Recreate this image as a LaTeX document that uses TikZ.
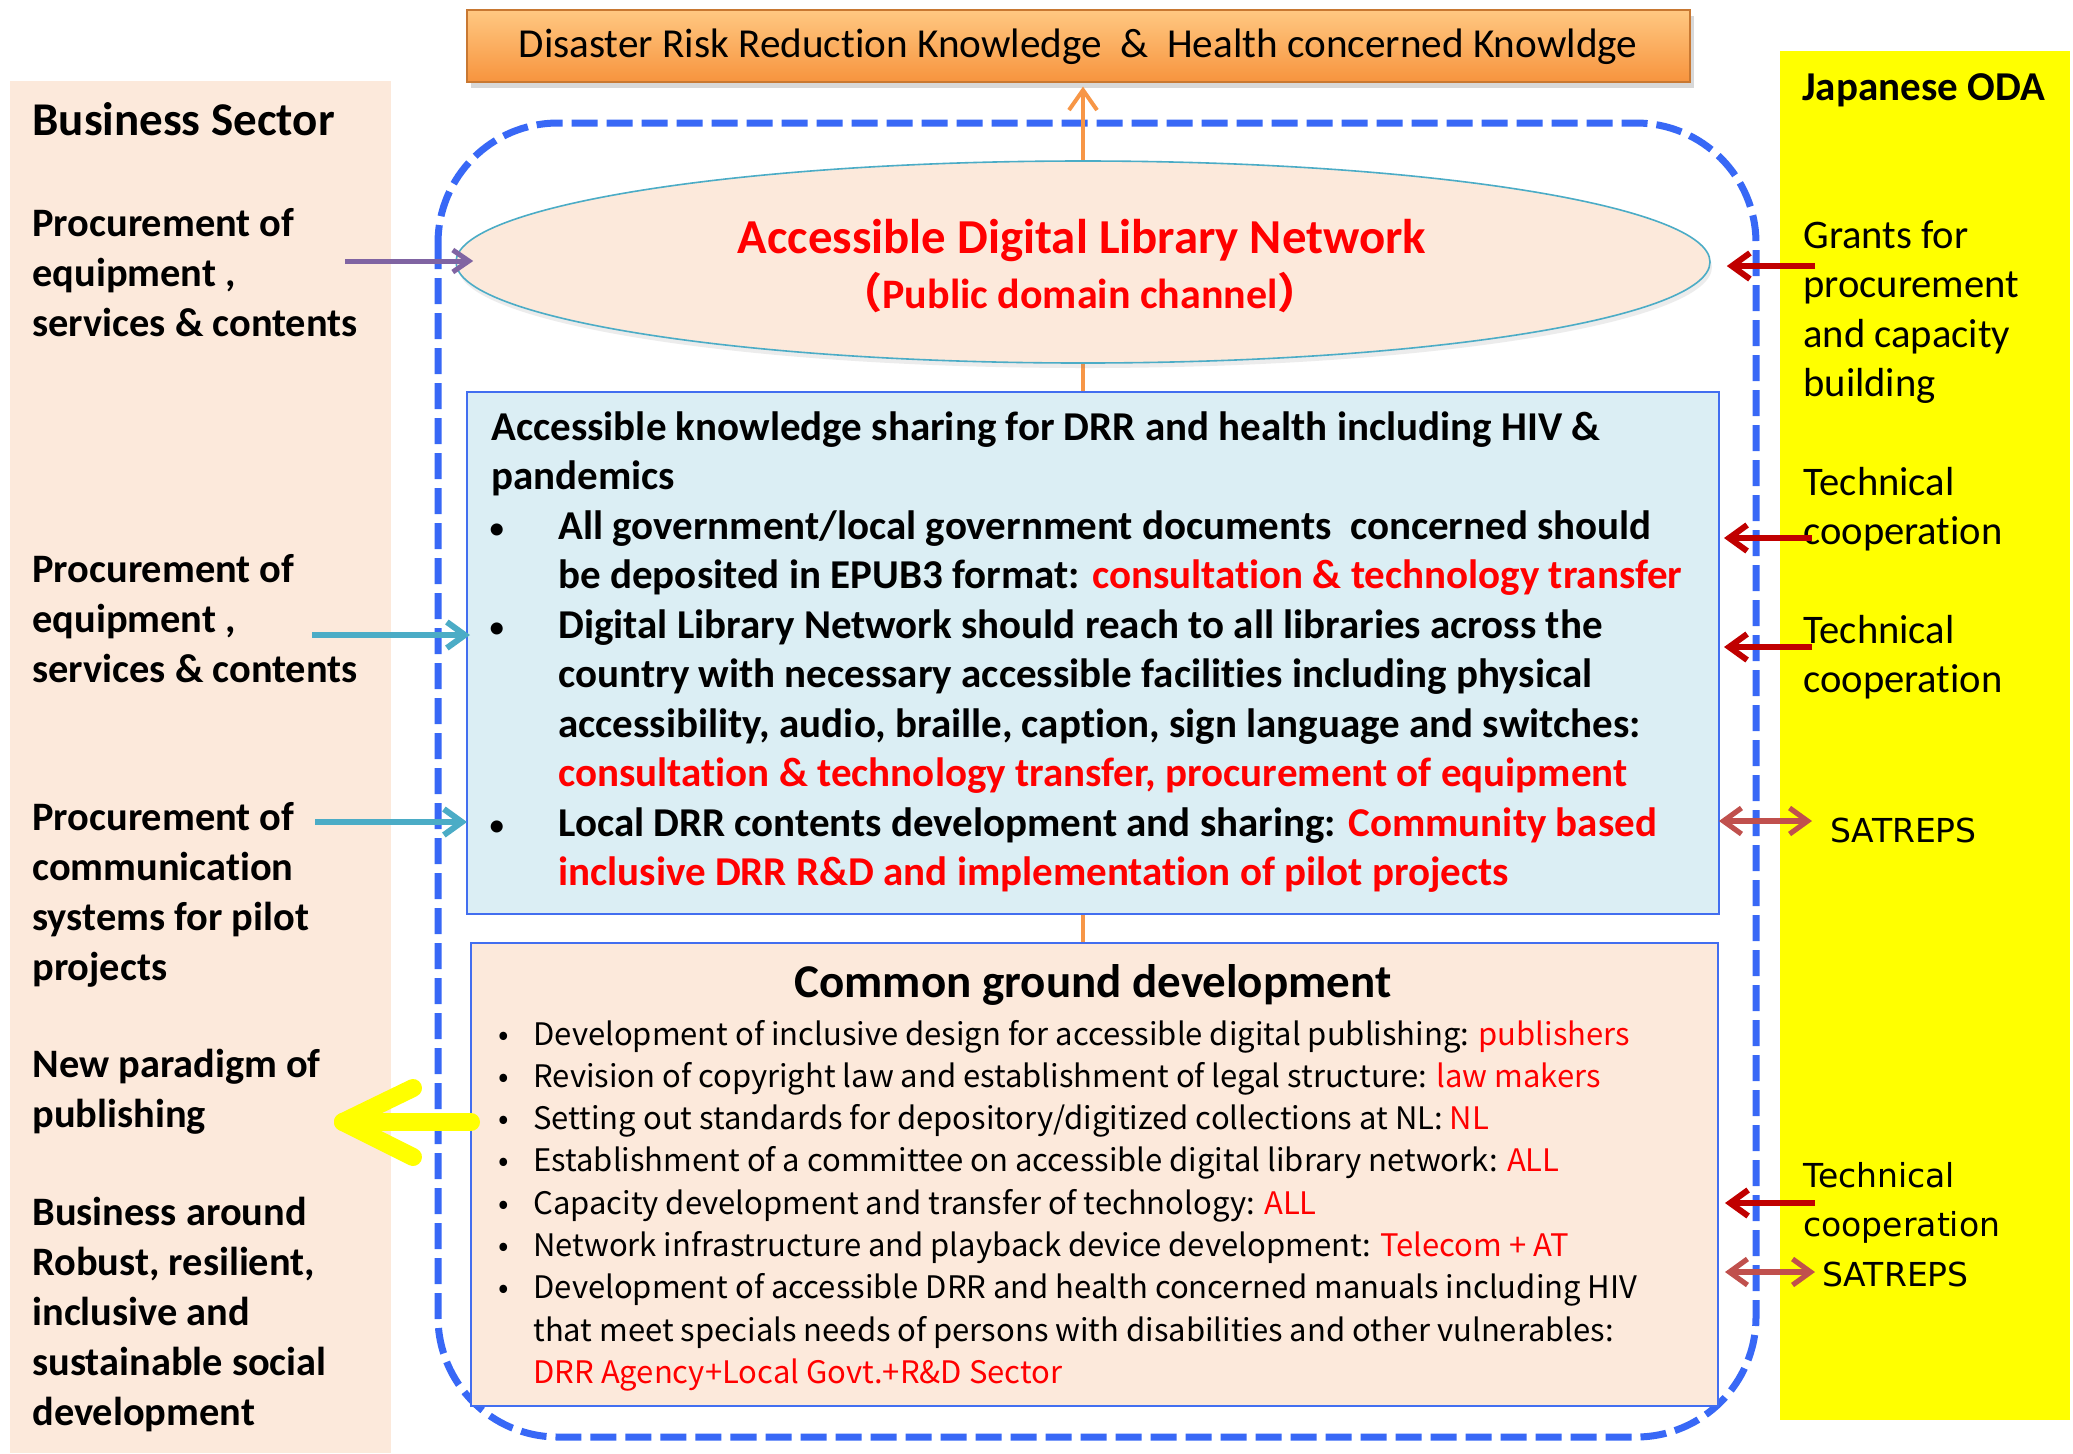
\documentclass[tikz,border=0pt]{standalone}
\usepackage{fontspec}
\setmainfont{Carlito}[Ligatures=NoCommon]
\newfontfamily\jpfont{Noto Sans CJK JP}
\newfontfamily\lucfont{DejaVu Sans}
\usetikzlibrary{arrows.meta,shadows,calc,shapes.geometric}
\definecolor{peach}{RGB}{252,233,219}
\definecolor{lblue}{RGB}{219,238,244}
\definecolor{boxblue}{RGB}{66,110,240}
\definecolor{dashblue}{RGB}{56,104,246}
\definecolor{myteal}{RGB}{75,172,198}
\definecolor{darkred}{RGB}{192,0,0}
\definecolor{satred}{RGB}{192,80,77}
\definecolor{purp}{RGB}{128,100,162}
\definecolor{orline}{RGB}{247,150,70}
\definecolor{ortop}{RGB}{255,200,130}
\definecolor{orbot}{RGB}{247,148,62}
\definecolor{orborder}{RGB}{200,120,50}
\definecolor{myyellow}{RGB}{255,255,0}
\newcommand{\rd}[1]{\textcolor{red}{#1}}
\newcommand{\kbul}{\hspace*{-1.5pt}\makebox[35pt][l]{\mdseries\fontsize{17}{20}\selectfont •}}
\begin{document}
\begin{tikzpicture}[x=0.5pt,y=-0.5pt,
  lefttxt/.style={anchor=base west, inner sep=0pt, font=\bfseries\fontsize{20.2}{25}\selectfont},
  righttxt/.style={anchor=base west, inner sep=0pt, font=\fontsize{20.3}{24.8}\selectfont},
  luctxt/.style={anchor=base west, inner sep=0pt, font=\lucfont\fontsize{16.5}{24.8}\selectfont},
  redarrow/.style={draw=darkred, line width=3pt, -{Straight Barb[length=9pt,width=13pt]}},
  satarrow/.style={draw=satred, line width=2.6pt, {Straight Barb[length=9pt,width=13pt]}-{Straight Barb[length=9pt,width=13pt]}},
  tealarrow/.style={draw=myteal, line width=3pt, -{Straight Barb[length=9pt,width=13pt]}},
  purparrow/.style={draw=purp, line width=2.5pt, -{Straight Barb[length=8pt,width=11pt]}},
  infobox/.style={draw=boxblue, line width=1pt, anchor=north west, inner sep=0pt},
  yarrow/.style={draw=myyellow, line width=9pt, line cap=round, line join=round}
]
\useasboundingbox (0,0) rectangle (2073,1453);
\fill[white] (0,0) rectangle (2073,1453);
% side panels
\fill[peach] (10,81) rectangle (391,1453);
\fill[myyellow] (1780,51) rectangle (2070,1420);
% dashed border
\draw[dashblue, line width=3.5pt, dash pattern=on 13pt off 4.5pt, rounded corners=60pt] (438,123) rectangle (1756,1437);
% top box
\node[anchor=north west, inner sep=0pt, minimum width=611.5pt, minimum height=36pt,
  top color=ortop, bottom color=orbot, draw=orborder, line width=0.8pt,
  drop shadow={shadow xshift=2pt, shadow yshift=-3pt, opacity=0.3}] (top) at (466,9) {};
\node[anchor=base, inner sep=0pt, font=\fontsize{20.6}{24}\selectfont] (toptxt) at (1078,57)
  {Disaster Risk Reduction Knowledge\ \ \&\ \ Health concerned Knowldge};
% ellipse
\coordinate (ec) at (1083,262);
\node[infobox, fill=peach, minimum width=622.5pt, minimum height=230.5pt] (cg) at (471,943) {};
\node[infobox, fill=lblue, minimum width=625pt, minimum height=260pt] (kb) at (467,392) {};
% vertical orange connector
\draw[orline, line width=2pt, -{Straight Barb[length=10pt,width=14pt]}, shorten >=2pt] (cg.north -| ec) -- (top.south -| ec);
\fill[peach] (cg.north west) rectangle (cg.south east);
\draw[boxblue, line width=1pt] (cg.north west) rectangle (cg.south east);
\fill[lblue] (kb.north west) rectangle (kb.south east);
\draw[boxblue, line width=1pt] (kb.north west) rectangle (kb.south east);
\node[ellipse, draw=myteal, line width=0.8pt, fill=peach, minimum width=627pt, minimum height=101pt, inner sep=0pt,
  drop shadow={shadow xshift=1pt, shadow yshift=-2.5pt, opacity=0.15}] (ell) at (ec) {};
\node[anchor=base, inner sep=0pt, text=red, font=\bfseries\fontsize{24.4}{30}\selectfont] (elt1) at (1082,253) {Accessible Digital Library Network};
\node[anchor=base, inner sep=0pt, text=red, font=\bfseries\fontsize{21}{24}\selectfont] (elt2) at (1080,308) {{\jpfont （}Public domain channel{\jpfont ）}};
% left texts
\node[anchor=base west, inner sep=0pt, font=\bfseries\fontsize{23.5}{26}\selectfont] (bst) at (32,135) {Business Sector};
\node[lefttxt] (l1) at (32,236) {\begin{tabular}[t]{@{}l@{}}Procurement of\\equipment ,\\services \& contents\end{tabular}};
\node[lefttxt] (l2) at (32,582) {\begin{tabular}[t]{@{}l@{}}Procurement of\\equipment ,\\services \& contents\end{tabular}};
\node[lefttxt] (l3) at (32,830) {\begin{tabular}[t]{@{}l@{}}Procurement of\\communication\\systems for pilot\\projects\end{tabular}};
\node[lefttxt] (l4) at (32,1077) {\begin{tabular}[t]{@{}l@{}}New paradigm of\\publishing\end{tabular}};
\node[lefttxt] (l5) at (32,1225) {\begin{tabular}[t]{@{}l@{}}Business around\\Robust, resilient,\\inclusive and\\sustainable social\\development\end{tabular}};
% right texts
\node[anchor=base west, inner sep=0pt, font=\bfseries\fontsize{20.5}{25}\selectfont] (oda) at (1802,100) {Japanese ODA};
\node[righttxt] (r1) at (1803,248) {\begin{tabular}[t]{@{}l@{}}Grants for\\procurement\\and capacity\\building\end{tabular}};
\node[righttxt] (r2) at (1803,495) {\begin{tabular}[t]{@{}l@{}}Technical\\cooperation\end{tabular}};
\node[righttxt] (r3) at (1803,643) {\begin{tabular}[t]{@{}l@{}}Technical\\cooperation\end{tabular}};
\node[luctxt] (r4) at (1830,842) {SATREPS};
\node[luctxt] (r5) at (1803,1187) {\begin{tabular}[t]{@{}l@{}}Technical\\cooperation\end{tabular}};
\node[luctxt] (r6) at (1822,1286) {SATREPS};
% box 1 text
\node[anchor=base west, inner sep=0pt, font=\bfseries\fontsize{20.5}{24.75}\selectfont] (kbt) at (491,440) {\begin{tabular}[t]{@{}l@{}}
Accessible knowledge sharing for DRR and health including HIV \&\\
pandemics\\
\kbul All government/local government documents\ \ concerned should\\
\hspace*{33.5pt}be deposited in EPUB3 format: \rd{consultation \& technology transfer}\\
\kbul Digital Library Network should reach to all libraries across the\\
\hspace*{33.5pt}country with necessary accessible facilities including physical\\
\hspace*{33.5pt}accessibility, audio, braille, caption, sign language and switches:\\
\hspace*{33.5pt}\rd{consultation \& technology transfer, procurement of equipment}\\
\kbul Local DRR contents development and sharing: \rd{Community based}\\
\hspace*{33.5pt}\rd{inclusive DRR R\&D and implementation of pilot projects}
\end{tabular}};
% box 2 text
\node[anchor=base, inner sep=0pt, font=\bfseries\fontsize{23.5}{26}\selectfont] (cgt) at (1093,997) {Common ground development};
\node[anchor=base west, inner sep=0pt, font=\jpfont\fontsize{15.5}{21.15}\selectfont] (cgb) at (498,1045) {\begin{tabular}[t]{@{}l@{}}
\makebox[17.5pt][l]{•}Development of inclusive design for accessible digital publishing: \rd{publishers}\\
\makebox[17.5pt][l]{•}Revision of copyright law and establishment of legal structure: \rd{law makers}\\
\makebox[17.5pt][l]{•}Setting out standards for depository/digitized collections at NL: \rd{NL}\\
\makebox[17.5pt][l]{•}Establishment of a committee on accessible digital library network: \rd{ALL}\\
\makebox[17.5pt][l]{•}Capacity development and transfer of technology: \rd{ALL}\\
\makebox[17.5pt][l]{•}Network infrastructure and playback device development: \rd{Telecom + AT}\\
\makebox[17.5pt][l]{•}Development of accessible DRR and health concerned manuals including HIV\\
\hspace*{17.5pt}that meet specials needs of persons with disabilities and other vulnerables:\\
\hspace*{17.5pt}\rd{DRR Agency+Local Govt.+R\&D Sector}
\end{tabular}};
% arrows left
\coordinate (pa) at (345,261);
\coordinate (ta1) at (312,635);
\coordinate (ta2) at (315,822);
\draw[purparrow, shorten >=-9pt] (pa) -- (pa -| ell.west);
\draw[tealarrow, shorten >=-1.5pt] (ta1) -- (ta1 -| kb.west);
\draw[tealarrow] (ta2) -- (ta2 -| kb.west);
% yellow arrow
\coordinate (yt) at (343,1122);
\draw[yarrow] (yt -| cg.west) -- (yt);
\draw[yarrow] ($(yt)+(70,-34)$) -- (yt) -- ($(yt)+(70,35)$);
% arrows right
\coordinate (ra1) at (1815,266);
\coordinate (ra2) at (1812,538);
\coordinate (ra3) at (1812,647);
\coordinate (ra4) at (1815,1203);
\coordinate (sa1) at (1812,821);
\coordinate (sa2) at (1815,1272);
\draw[redarrow, shorten >=8pt] (ra1) -- (ra1 -| ell.east);
\draw[redarrow, shorten >=2.5pt] (ra2) -- (ra2 -| kb.east);
\draw[redarrow, shorten >=2.5pt] (ra3) -- (ra3 -| kb.east);
\draw[redarrow, shorten >=3.5pt] (ra4) -- (ra4 -| cg.east);
\draw[satarrow] (sa1 -| kb.east) -- (sa1);
\draw[satarrow, shorten <=3.5pt] (sa2 -| cg.east) -- (sa2);
\end{tikzpicture}
\end{document}
